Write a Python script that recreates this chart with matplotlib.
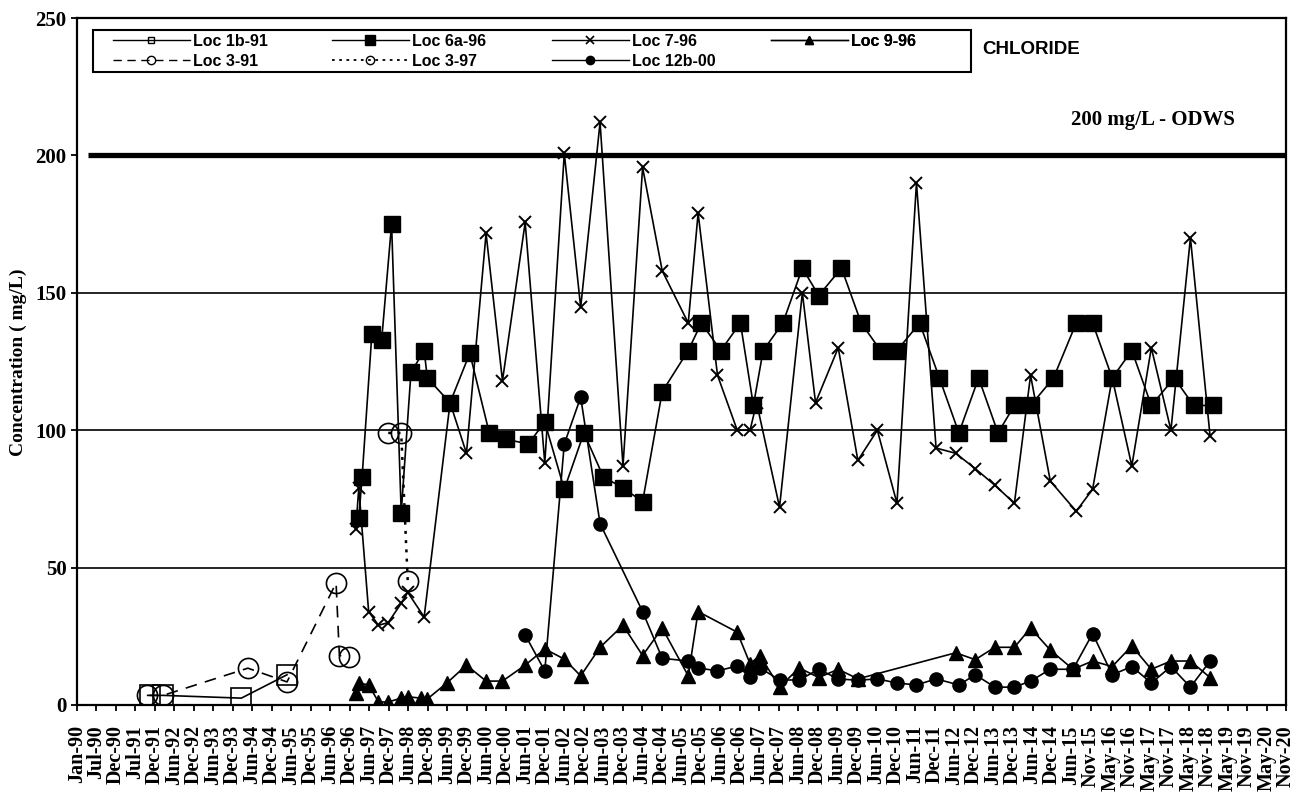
import datetime as dt

import matplotlib
matplotlib.use("Agg")
import matplotlib.pyplot as plt
from matplotlib.lines import Line2D
from matplotlib.patches import Rectangle
import pandas as pd

# ---- data (sample month, chloride mg/L) ----
loc1b_91_dates = ["1991-11", "1992-03", "1994-03", "1995-05"]
loc1b_91_vals = [3.5, 3.5, 2.5, 11]

loc3_91_dates = ["1991-10", "1992-03", "1994-05", "1995-05", "1996-08", "1996-09", "1996-12"]
loc3_91_vals = [3.5, 3.5, 13.4, 8.4, 44.4, 18, 17.5]

loc3_97_dates = ["1997-12", "1998-04", "1998-06"]
loc3_97_vals = [99, 99, 45]

loc6a_96_dates = ["1997-03", "1997-04", "1997-07", "1997-10", "1998-01", "1998-04", "1998-07",
                  "1998-11", "1998-12", "1999-07", "2000-01", "2000-07", "2000-12", "2001-07",
                  "2001-12", "2002-06", "2002-12", "2003-06", "2003-12", "2004-06", "2004-12",
                  "2005-08", "2005-12", "2006-06", "2006-12", "2007-04", "2007-07", "2008-01",
                  "2008-07", "2008-12", "2009-07", "2010-01", "2010-07", "2010-12", "2011-07",
                  "2012-01", "2012-07", "2013-01", "2013-07", "2013-12", "2014-05", "2014-12",
                  "2015-07", "2015-12", "2016-06", "2016-12", "2017-06", "2018-01", "2018-07",
                  "2019-01"]
loc6a_96_vals = [68, 83, 135, 133, 175, 70, 121, 129, 119, 110, 128, 99, 96.7, 95, 103, 78.5,
                 99, 83, 79, 74, 114, 129, 139, 129, 139, 109, 129, 139, 159, 149, 159, 139,
                 129, 129, 139, 119, 99, 119, 99, 109, 109, 119, 139, 139, 119, 129, 109, 119,
                 109, 109]

loc7_96_dates = ["1997-02", "1997-03", "1997-06", "1997-09", "1997-12", "1998-04", "1998-06",
                 "1998-11", "1999-07", "1999-12", "2000-06", "2000-11", "2001-06", "2001-12",
                 "2002-06", "2002-11", "2003-05", "2003-12", "2004-06", "2004-12", "2005-08",
                 "2005-11", "2006-05", "2006-11", "2007-03", "2007-05", "2007-12", "2008-07",
                 "2008-11", "2009-06", "2009-12", "2010-06", "2010-12", "2011-06", "2011-12",
                 "2012-06", "2012-12", "2013-06", "2013-12", "2014-05", "2014-11", "2015-07",
                 "2015-12", "2016-06", "2016-12", "2017-06", "2017-12", "2018-06", "2018-12"]
loc7_96_vals = [64, 79, 34, 29, 30, 37, 41, 32, 110, 91.6, 171.6, 118, 175.6, 88, 200.7, 144.7,
                212, 87, 195.6, 158, 139, 179, 120, 100, 100, 110, 72, 150, 110, 130, 89, 100,
                73.4, 190, 93.5, 91.6, 86, 80, 73.4, 120, 81.5, 70.5, 78.5, 119, 87, 130, 100,
                170, 98]

loc9_96_dates = ["1997-02", "1997-03", "1997-06", "1997-09", "1997-12", "1998-04", "1998-06",
                 "1998-10", "1998-12", "1999-06", "1999-12", "2000-06", "2000-11", "2001-06",
                 "2001-12", "2002-06", "2002-11", "2003-05", "2003-12", "2004-06", "2004-12",
                 "2005-08", "2005-11", "2006-11", "2007-03", "2007-06", "2007-12", "2008-06",
                 "2008-12", "2009-06", "2009-12", "2012-06", "2012-12", "2013-06", "2013-12",
                 "2014-05", "2014-11", "2015-06", "2015-12", "2016-06", "2016-12", "2017-06",
                 "2017-12", "2018-06", "2018-12"]
loc9_96_vals = [4.4, 8, 7.3, 1.1, 1.1, 2.5, 3, 2.5, 2.2, 8, 14.5, 8.7, 8.7, 14.5, 20.4, 16.7,
                10.6, 21, 29, 18, 28, 10.6, 34, 26.5, 15, 18, 6.5, 13.5, 10, 13, 9.5, 19, 16.5,
                21, 21, 28, 20, 13, 16, 14, 21.5, 13, 16, 16, 10]

loc12b_00_dates = ["2001-06", "2001-12", "2002-06", "2002-11", "2003-05", "2004-06", "2004-12",
                   "2005-08", "2005-11", "2006-05", "2006-11", "2007-03", "2007-06", "2007-12",
                   "2008-06", "2008-12", "2009-06", "2009-12", "2010-06", "2010-12", "2011-06",
                   "2011-12", "2012-07", "2012-12", "2013-06", "2013-12", "2014-05", "2014-11",
                   "2015-06", "2015-12", "2016-06", "2016-12", "2017-06", "2017-12", "2018-06",
                   "2018-12"]
loc12b_00_vals = [25.5, 12.4, 95, 112, 66, 34, 17, 16, 13.5, 12.4, 14.2, 10.2, 13.5, 9.1, 9.1,
                  13, 9.5, 9, 9.5, 8, 7.3, 9.5, 7.3, 11, 6.5, 6.5, 8.7, 13, 13, 26, 11, 14, 8,
                  14, 6.5, 16]

odws_dates = ["1990-04", "2021-06"]
odws_vals = [200, 200]

tick_labels = ["Jan-90", "Jul-90", "Dec-90", "Jul-91", "Dec-91", "Jun-92", "Dec-92", "Jun-93",
               "Dec-93", "Jun-94", "Dec-94", "Jun-95", "Dec-95", "Jun-96", "Dec-96", "Jun-97",
               "Dec-97", "Jun-98", "Dec-98", "Jun-99", "Dec-99", "Jun-00", "Dec-00", "Jun-01",
               "Dec-01", "Jun-02", "Dec-02", "Jun-03", "Dec-03", "Jun-04", "Dec-04", "Jun-05",
               "Dec-05", "Jun-06", "Dec-06", "Jun-07", "Dec-07", "Jun-08", "Dec-08", "Jun-09",
               "Dec-09", "Jun-10", "Dec-10", "Jun-11", "Dec-11", "Jun-12", "Dec-12", "Jun-13",
               "Dec-13", "Jun-14", "Dec-14", "Jun-15", "Nov-15", "May-16", "Nov-16", "May-17",
               "Nov-17", "May-18", "Nov-18", "May-19", "Nov-19", "May-20", "Nov-20"]


def to_dates(months):
    return pd.to_datetime([m + "-15" for m in months])


serif = "Liberation Serif"
sans = "Liberation Sans"
W, H = 1301, 796

fig = plt.figure(figsize=(W / 100, H / 100), dpi=100)
ax = fig.add_axes([77 / W, 91 / H, 1209 / W, 687 / H])


def px(x, y):
    # pixel position (from top-left) -> axes fraction
    return (x - 77) / 1209, (705 - y) / 687


# Excel-style date axis, major unit 182 days
start = dt.datetime(1990, 1, 1)
ticks = [start + dt.timedelta(days=182 * k) for k in range(len(tick_labels))]
ax.set_xlim(ticks[0], ticks[-1])
ax.set_ylim(0, 250)

for y in (50, 100, 150):
    ax.axhline(y, color="black", lw=1.2, zorder=1)
ax.plot(to_dates(odws_dates), odws_vals, color="black", lw=3.8, zorder=2, solid_capstyle="butt")

lw = 1.2
ax.plot(to_dates(loc1b_91_dates), loc1b_91_vals, color="black", lw=lw, marker="s", ms=14.5,
        mfc="none", mec="black", mew=1.2, zorder=3)
ax.plot(to_dates(loc6a_96_dates), loc6a_96_vals, color="black", lw=lw, marker="s", ms=11,
        mfc="black", mec="black", zorder=3)
ax.plot(to_dates(loc7_96_dates), loc7_96_vals, color="black", lw=lw, marker="x", ms=9,
        mew=1.4, zorder=3)
ax.plot(to_dates(loc9_96_dates), loc9_96_vals, color="black", lw=lw, marker="^", ms=9.5,
        mfc="black", zorder=3)
ax.plot(to_dates(loc3_91_dates), loc3_91_vals, color="black", lw=lw, ls=(0, (7, 5)), marker="o",
        ms=14.5, mfc="none", mew=1.2, zorder=3)
ax.plot(to_dates(loc3_97_dates), loc3_97_vals, color="black", lw=1.8, ls=(0, (1.2, 2.5)),
        marker="o", ms=14.5, mfc="none", mew=1.2, zorder=3)
ax.plot(to_dates(loc12b_00_dates), loc12b_00_vals, color="black", lw=lw, marker="o", ms=9.5,
        mfc="black", zorder=3)

ax.set_xticks(ticks)
ax.set_xticklabels(tick_labels, rotation=90, fontfamily=serif, fontweight="bold", fontsize=14.5)
ax.set_yticks([0, 50, 100, 150, 200, 250])
ax.set_yticklabels(["0", "50", "100", "150", "200", "250"], fontfamily=serif,
                   fontweight="bold", fontsize=15)
ax.tick_params(axis="x", direction="out", length=4.5, width=1.3, pad=10)
ax.tick_params(axis="y", direction="out", length=4.5, width=1.3, pad=3)
for sp in ax.spines.values():
    sp.set_linewidth(1.6)

fig.text(18 / W, 1 - 362 / H, "Concentration ( mg/L)", rotation=90, ha="center",
         va="center", fontfamily=serif, fontweight="bold", fontsize=14)

fig.text(982 / W, 1 - 50 / H, "CHLORIDE", fontfamily=sans, fontweight="bold",
         fontsize=13.5, va="center", ha="left")
fig.text(1071 / W, 1 - 120 / H, "200 mg/L - ODWS", fontfamily=serif, fontweight="bold",
         fontsize=15, va="center", ha="left")

# legend: framed box with four columns of entries
bx0, by0 = px(93, 72)
bx1, by1 = px(971, 30)
ax.add_patch(Rectangle((bx0, by0), bx1 - bx0, by1 - by0, transform=ax.transAxes,
                       facecolor="white", edgecolor="black", lw=1.5, zorder=4))

leg_cols = [
    ([Line2D([], [], color="black", lw=1, marker="s", ms=5, mfc="none", mew=1),
      Line2D([], [], color="black", lw=1, ls=(0, (6, 4)), marker="o", ms=6, mfc="none", mew=1)],
     ["Loc 1b-91", "Loc 3-91"], 113),
    ([Line2D([], [], color="black", lw=1, marker="s", ms=7.5, mfc="black"),
      Line2D([], [], color="black", lw=1.3, ls=(0, (1.5, 2.5)), marker="o", ms=6, mfc="none",
             mew=1)],
     ["Loc 6a-96", "Loc 3-97"], 332),
    ([Line2D([], [], color="black", lw=1, marker="x", ms=6, mew=1.2),
      Line2D([], [], color="black", lw=1, marker="o", ms=6, mfc="black")],
     ["Loc 7-96", "Loc 12b-00"], 552),
    ([Line2D([], [], color="black", lw=1, marker="^", ms=6, mfc="black")],
     ["Loc 9-96"], 771),
]
for hs, ls, xcol in leg_cols:
    lx, ly = px(xcol, 34)
    lg = ax.legend(hs, ls, loc="upper left", bbox_to_anchor=(lx, ly), borderaxespad=0,
                   borderpad=0, frameon=False, handlelength=4.8, handletextpad=0.2,
                   labelspacing=0.3, prop={"family": sans, "weight": "bold", "size": 11.5})
    lg.set_zorder(5)
    ax.add_artist(lg)

fig.savefig("out.png", dpi=100)
